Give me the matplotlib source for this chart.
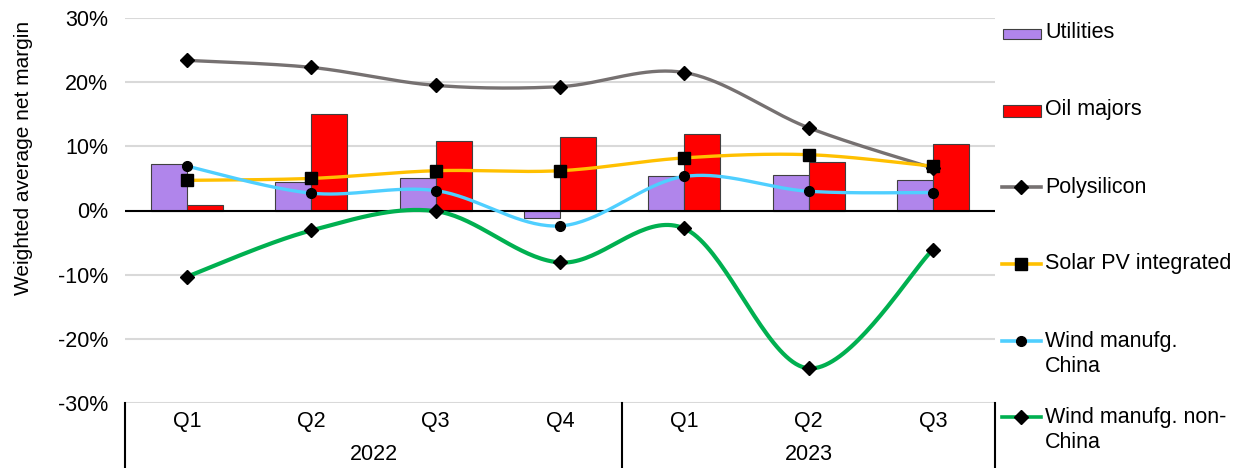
import numpy as np
import matplotlib.pyplot as plt
import matplotlib.transforms as mtransforms
from matplotlib.lines import Line2D
from matplotlib.patches import Rectangle

plt.rcParams['font.family'] = ['Liberation Sans', 'DejaVu Sans']

quarters = ["Q1", "Q2", "Q3", "Q4", "Q1", "Q2", "Q3"]
years = ["2022", "2023"]
year_sizes = [4, 3]

utilities = [7.3, 4.5, 5.1, -1.2, 5.3, 5.5, 4.8]
oil_majors = [0.9, 15.1, 10.9, 11.4, 12.0, 7.5, 10.4]
polysilicon = [23.4, 22.3, 19.5, 19.3, 21.5, 12.9, 6.6]
solar_pv = [4.7, 5.0, 6.2, 6.2, 8.2, 8.7, 6.9]
wind_china = [6.9, 2.7, 3.1, -2.4, 5.3, 3.0, 2.8]
wind_non_china = [-10.3, -3.1, -0.1, -8.1, -2.8, -24.6, -6.1]

W, H = 1243, 468


def smooth(xs, ys, n=40):
    # Excel-style smoothed line: cubic bezier through the points
    xs = np.asarray(xs, float)
    ys = np.asarray(ys, float)
    px = np.concatenate([[xs[0]], xs, [xs[-1]]])
    py = np.concatenate([[ys[0]], ys, [ys[-1]]])
    t = np.linspace(0, 1, n)
    outx, outy = [], []
    for i in range(1, len(px) - 2):
        x0, x1, x2, x3 = px[i - 1], px[i], px[i + 1], px[i + 2]
        y0, y1, y2, y3 = py[i - 1], py[i], py[i + 1], py[i + 2]
        c1x, c1y = x1 + (x2 - x0) / 6, y1 + (y2 - y0) / 6
        c2x, c2y = x2 - (x3 - x1) / 6, y2 - (y3 - y1) / 6
        bx = (1 - t) ** 3 * x1 + 3 * (1 - t) ** 2 * t * c1x + 3 * (1 - t) * t ** 2 * c2x + t ** 3 * x2
        by = (1 - t) ** 3 * y1 + 3 * (1 - t) ** 2 * t * c1y + 3 * (1 - t) * t ** 2 * c2y + t ** 3 * y2
        outx.extend(bx)
        outy.extend(by)
    return outx, outy


fig = plt.figure(figsize=(W / 100, H / 100), dpi=100)
ax = fig.add_axes([125 / W, 1 - 403 / H, 870 / W, 385 / H])

x = np.arange(len(quarters))
bw = 0.29
ax.bar(x - bw / 2, utilities, bw, color='#b085eb', edgecolor='#404040', linewidth=0.8, zorder=2)
ax.bar(x + bw / 2, oil_majors, bw, color='#ff0000', edgecolor='#404040', linewidth=0.8, zorder=2)

series = [
    (polysilicon, '#767171', 'D', 7, 2.4),
    (solar_pv, '#ffc000', 's', 8.5, 2.4),
    (wind_china, '#4fcfff', 'o', 7, 2.4),
    (wind_non_china, '#00b050', 'D', 7, 3.0),
]
for vals, col, mk, ms, lw in series:
    sx, sy = smooth(x, vals)
    ax.plot(sx, sy, color=col, lw=lw, zorder=3, solid_capstyle='round')
    ax.plot(x, vals, ls='none', marker=mk, ms=ms, color='black', zorder=4)

ax.set_xlim(-0.5, len(quarters) - 0.5)
ax.set_ylim(-30, 30)
ax.set_yticks(range(-30, 31, 10))
ax.set_yticklabels([f"{v}%" for v in range(-30, 31, 10)], fontsize=15.5)
ax.yaxis.grid(True, color='#d9d9d9', lw=1.5, zorder=0)
ax.set_axisbelow(True)
ax.axhline(0, color='black', lw=1.5, zorder=2.5)
ax.tick_params(axis='y', length=0, pad=12)
ax.set_xticks([])
for s in ax.spines.values():
    s.set_visible(False)

ax.set_ylabel("Weighted average net margin", fontsize=15)
ax.yaxis.set_label_coords(-(125 - 33) / 870, (403 - 158) / 385)

# category axis with year groups
trans = mtransforms.blended_transform_factory(ax.transData, fig.transFigure)
for i, q in enumerate(quarters):
    ax.text(i, 1 - 422 / H, q, transform=trans, ha='center', va='center', fontsize=15.5)
start = 0
bounds = [-0.5]
for yr, n in zip(years, year_sizes):
    mid = start + (n - 1) / 2
    ax.text(mid, 1 - 455 / H, yr, transform=trans, ha='center', va='center', fontsize=15.5)
    start += n
    bounds.append(start - 0.5)
for b in bounds:
    fig.add_artist(Line2D([b, b], [1 - 403 / H, 0], transform=trans, color='black', lw=1.5))

# legend drawn by hand to keep Excel layout
def fx(px):
    return px / W


def fy(py):
    return 1 - py / H


fig.add_artist(Rectangle((fx(1003), fy(39)), 38 / W, 10 / H, transform=fig.transFigure,
                         facecolor='#b085eb', edgecolor='#404040', lw=0.8))
fig.add_artist(Rectangle((fx(1003), fy(117)), 38 / W, 12 / H, transform=fig.transFigure,
                         facecolor='#ff0000', edgecolor='#404040', lw=0.8))
leg_lines = [(187, '#767171', 'D', 7), (264, '#ffc000', 's', 8.5), (341, '#4fcfff', 'o', 7),
             (417, '#00b050', 'D', 7)]
for py, col, mk, ms in leg_lines:
    fig.add_artist(Line2D([fx(1002), fx(1041)], [fy(py), fy(py)], transform=fig.transFigure,
                          color=col, lw=2.6))
    fig.add_artist(Line2D([fx(1021)], [fy(py)], transform=fig.transFigure, ls='none',
                          marker=mk, ms=ms, color='black'))
labels = [("Utilities", 33), ("Oil majors", 110), ("Polysilicon", 187), ("Solar PV integrated", 263),
          ("Wind manufg.", 341), ("China", 366), ("Wind manufg. non-", 417), ("China", 442)]
for t, py in labels:
    fig.text(fx(1045), fy(py), t, ha='left', va='center', fontsize=15.5)

fig.savefig("out.png", dpi=100)
